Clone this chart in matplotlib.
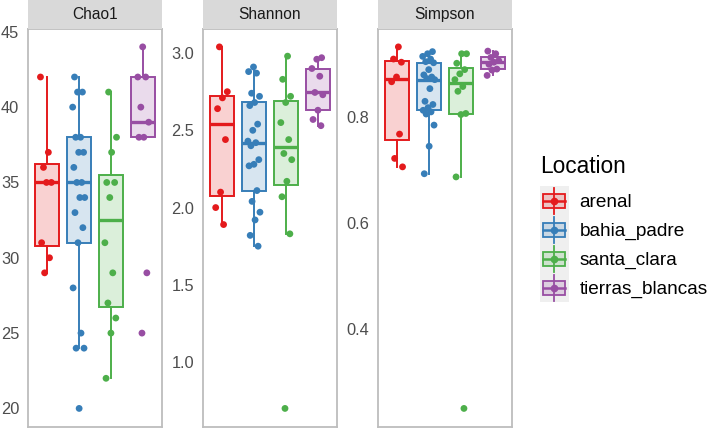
import numpy as np
import matplotlib
matplotlib.use("Agg")
import matplotlib.pyplot as plt
from matplotlib.patches import Rectangle, Patch
from matplotlib.lines import Line2D
from matplotlib.legend_handler import HandlerBase
from matplotlib.colors import to_rgba

plt.rcParams['font.family'] = ['Liberation Sans', 'DejaVu Sans']

# ---- data ----
locations = ["arenal", "bahia_padre", "santa_clara", "tierras_blancas"]
colors = ["#E41A1C", "#377EB8", "#4DAF4A", "#984EA3"]
metrics = ["Chao1", "Shannon", "Simpson"]

chao1_arenal = [42, 37, 36, 35, 35, 31, 30, 29]
chao1_bahia = [42, 41, 41, 40, 38, 38, 37, 37, 36, 35, 35, 34, 34, 33, 32, 31, 28, 25, 24, 24, 20]
chao1_santa = [41, 38, 37, 35, 35, 34, 31, 29, 27, 26, 25, 22]
chao1_tierras = [44, 42, 42, 40, 39, 38, 38, 29, 25]

shannon_arenal = [3.04, 2.75, 2.71, 2.64, 2.44, 2.10, 2.00, 1.89]
shannon_bahia = [2.91, 2.88, 2.87, 2.74, 2.72, 2.68, 2.66, 2.54, 2.50, 2.43, 2.42, 2.40,
                 2.31, 2.28, 2.27, 2.11, 2.04, 1.97, 1.92, 1.82, 1.75]
shannon_santa = [2.98, 2.83, 2.72, 2.68, 2.55, 2.44, 2.35, 2.31, 2.17, 2.07, 1.83, 0.70]
shannon_tierras = [2.97, 2.96, 2.90, 2.85, 2.745, 2.73, 2.63, 2.57, 2.53]

simpson_arenal = [0.933, 0.910, 0.904, 0.876, 0.867, 0.768, 0.722, 0.706]
simpson_bahia = [0.924, 0.920, 0.915, 0.910, 0.905, 0.903, 0.890, 0.880, 0.876, 0.873, 0.871,
                 0.854, 0.830, 0.824, 0.818, 0.813, 0.810, 0.806, 0.785, 0.745, 0.693]
simpson_santa = [0.920, 0.920, 0.902, 0.890, 0.882, 0.871, 0.858, 0.849, 0.807, 0.805, 0.687, 0.249]
simpson_tierras = [0.925, 0.920, 0.913, 0.907, 0.904, 0.900, 0.891, 0.889, 0.879]

data = {
    "Chao1": [chao1_arenal, chao1_bahia, chao1_santa, chao1_tierras],
    "Shannon": [shannon_arenal, shannon_bahia, shannon_santa, shannon_tierras],
    "Simpson": [simpson_arenal, simpson_bahia, simpson_santa, simpson_tierras],
}
yticks = {
    "Chao1": [20, 25, 30, 35, 40, 45],
    "Shannon": [1.0, 1.5, 2.0, 2.5, 3.0],
    "Simpson": [0.4, 0.6, 0.8],
}
ytick_labels = {
    "Chao1": ["20", "25", "30", "35", "40", "45"],
    "Shannon": ["1.0", "1.5", "2.0", "2.5", "3.0"],
    "Simpson": ["0.4", "0.6", "0.8"],
}

# ---- figure ----
W, H = 709, 428
fig = plt.figure(figsize=(W / 100, H / 100), dpi=100)

panel_left = [27.7, 202.7, 377.7]
panel_w = 134.0
panel_top = 28.8
panel_bot = 426.5
strip_h = 28.8
border_col = "#BDBDBD"

for k, m in enumerate(metrics):
    ax = fig.add_axes([panel_left[k] / W, (H - panel_bot) / H,
                       panel_w / W, (panel_bot - panel_top) / H])
    groups = data[m]
    bp = ax.boxplot(groups, positions=range(4), widths=0.75, patch_artist=True,
                    whis=1.5, showfliers=False, showcaps=False, zorder=2)
    for i, c in enumerate(colors):
        bp['boxes'][i].set_facecolor(to_rgba(c, 0.2))
        bp['boxes'][i].set_edgecolor(c)
        bp['boxes'][i].set_linewidth(1.4)
        bp['medians'][i].set_color(c)
        bp['medians'][i].set_linewidth(2.4)
        for w in bp['whiskers'][2 * i:2 * i + 2]:
            w.set_color(c)
            w.set_linewidth(1.4)
    # jittered points (deterministic jitter)
    for i, (vals, c) in enumerate(zip(groups, colors)):
        n = len(vals)
        jit = (((np.arange(n) * 0.618034 + 0.31 * k + 0.17 * i) % 1.0) - 0.5) * 0.4
        ax.scatter(i + jit, vals, s=24, color=c, edgecolors='none', zorder=3)
    allv = np.concatenate([np.asarray(g, float) for g in groups])
    lo, hi = allv.min(), allv.max()
    pad = 0.05 * (hi - lo)
    ax.set_ylim(lo - pad, hi + pad)
    ax.set_xlim(-0.6, 3.6)
    ax.set_xticks([])
    ax.set_yticks(yticks[m])
    ax.set_yticklabels(ytick_labels[m])
    ax.tick_params(axis='y', length=0, pad=6, labelsize=11.8, labelcolor="#4D4D4D")
    for s in ax.spines.values():
        s.set_color(border_col)
        s.set_linewidth(1.3)
    ax.set_facecolor("white")
    # strip
    sh = strip_h / (panel_bot - panel_top)
    ax.add_patch(Rectangle((0, 1), 1, sh, transform=ax.transAxes, facecolor="#D9D9D9",
                           edgecolor="none", clip_on=False, zorder=5))
    ax.text(0.5, 1 + sh / 2, m, transform=ax.transAxes, ha='center', va='center',
            fontsize=11.2, color="#1A1A1A", zorder=6)


class BoxKey(HandlerBase):
    def create_artists(self, legend, orig_handle, xdescent, ydescent, width, height,
                       fontsize, trans):
        c = orig_handle.get_edgecolor()
        x0, y0 = -xdescent, -ydescent
        cx, cy = x0 + width / 2, y0 + height / 2
        bg = Rectangle((x0, y0), width, height, facecolor="#EFEFEF", edgecolor="none",
                       transform=trans)
        vl = Line2D([cx, cx], [y0 + 0.05 * height, y0 + 0.95 * height], color=c, lw=1.3,
                    transform=trans)
        bx = Rectangle((x0 + 0.12 * width, y0 + 0.25 * height), 0.76 * width, 0.5 * height,
                       facecolor=to_rgba(c, 0.2), edgecolor=c, lw=1.3, transform=trans)
        md = Line2D([x0 + 0.12 * width, x0 + 0.88 * width], [cy, cy], color=c, lw=1.8,
                    transform=trans)
        pt = Line2D([cx], [cy], marker='o', ms=4.5, color=c, ls='none', transform=trans)
        return [bg, vl, bx, md, pt]


handles = [Patch(facecolor=to_rgba(c, 0.2), edgecolor=c) for c in colors]
leg = fig.legend(handles, locations, handler_map={Patch: BoxKey()},
                 loc='upper left', bbox_to_anchor=(540 / W, (H - 155) / H),
                 frameon=False, fontsize=13.7, title="Location", title_fontsize=16.3,
                 alignment='left', handlelength=1.52, handleheight=1.97,
                 labelspacing=0.0, handletextpad=0.55, borderpad=0, borderaxespad=0)
leg._legend_box.sep = 6

fig.savefig("out.png", dpi=100)
